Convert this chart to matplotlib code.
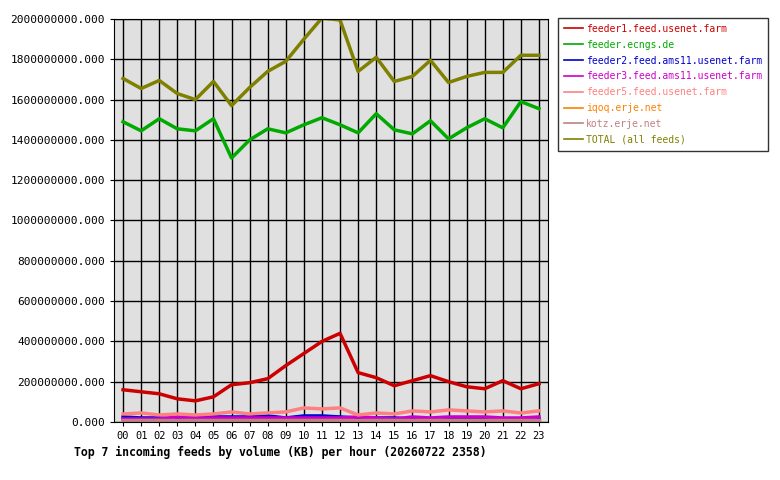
import matplotlib
matplotlib.use('Agg')
import matplotlib.pyplot as plt
from matplotlib.ticker import FuncFormatter

hours = ['%02d' % h for h in range(24)]
# values in millions of KB
feeder1 = [160, 150, 140, 115, 105, 125, 185, 195, 215, 280, 340, 400, 440, 245, 220, 180, 205, 230, 200, 175, 165, 205, 165, 190]
ecngs = [1490, 1445, 1505, 1455, 1445, 1505, 1310, 1400, 1455, 1435, 1475, 1510, 1475, 1435, 1530, 1450, 1430, 1495, 1405, 1460, 1505, 1460, 1590, 1555]
feeder2 = [25, 20, 20, 15, 20, 25, 25, 25, 30, 20, 30, 30, 25, 20, 20, 20, 15, 15, 15, 15, 15, 15, 15, 15]
feeder3 = [15, 15, 15, 25, 20, 20, 20, 20, 20, 20, 20, 20, 20, 25, 20, 15, 25, 20, 25, 25, 25, 20, 20, 25]
feeder5 = [40, 45, 35, 40, 35, 40, 50, 40, 45, 50, 70, 65, 70, 35, 45, 40, 55, 50, 60, 55, 50, 55, 45, 55]
iqoq = [5] * 24
kotz = [10] * 24
total = [1705, 1655, 1695, 1630, 1600, 1690, 1570, 1660, 1740, 1790, 1900, 2005, 1995, 1740, 1810, 1690, 1715, 1795, 1685, 1715, 1735, 1735, 1820, 1820]

series = [
    ('feeder1.feed.usenet.farm', feeder1, '#cc0000'),
    ('feeder.ecngs.de', ecngs, '#00aa00'),
    ('feeder2.feed.ams11.usenet.farm', feeder2, '#0000cc'),
    ('feeder3.feed.ams11.usenet.farm', feeder3, '#cc00cc'),
    ('feeder5.feed.usenet.farm', feeder5, '#ff8080'),
    ('iqoq.erje.net', iqoq, '#ff8000'),
    ('kotz.erje.net', kotz, '#c08080'),
    ('TOTAL (all feeds)', total, '#808000'),
]

plt.rcParams['font.family'] = 'DejaVu Sans Mono'
fig = plt.figure(figsize=(7.8, 4.8), dpi=100)
ax = fig.add_axes([114 / 780, 58 / 480, 434 / 780, 403 / 480])
ax.set_facecolor('#e0e0e0')
x = list(range(24))
for name, vals, col in series:
    ax.plot(x, [v * 1e6 for v in vals], color=col, lw=2.5, label=name)
ax.set_xlim(-0.5, 23.5)
ax.set_ylim(0, 2e9)
ax.set_xticks(x)
ax.set_xticklabels(hours)
ax.set_yticks([i * 2e8 for i in range(11)])
ax.yaxis.set_major_formatter(FuncFormatter(lambda v, p: '%.3f' % v))
ax.tick_params(labelsize=8, length=3)
ax.tick_params(axis='x', labelsize=7.5)
ax.grid(True, color='black', lw=1)
ax.set_axisbelow(True)
for s in ax.spines.values():
    s.set_color('black')
fig.text(74 / 780, 1 - 452 / 480, 'Top 7 incoming feeds by volume (KB) per hour (20260722 2358)',
         fontsize=8.3, fontweight='bold', ha='left', va='center')
leg = fig.legend(loc='upper left', bbox_to_anchor=(558 / 780, 1 - 18 / 480), fontsize=7,
                 frameon=True, fancybox=False, edgecolor='black', handlelength=2,
                 borderaxespad=0, labelspacing=0.6, borderpad=0.6, handletextpad=0.3)
for t, (_, _, col) in zip(leg.get_texts(), series):
    t.set_color(col)
for l in leg.get_lines():
    l.set_linewidth(1.2)
fig.savefig('out.png', dpi=100)
